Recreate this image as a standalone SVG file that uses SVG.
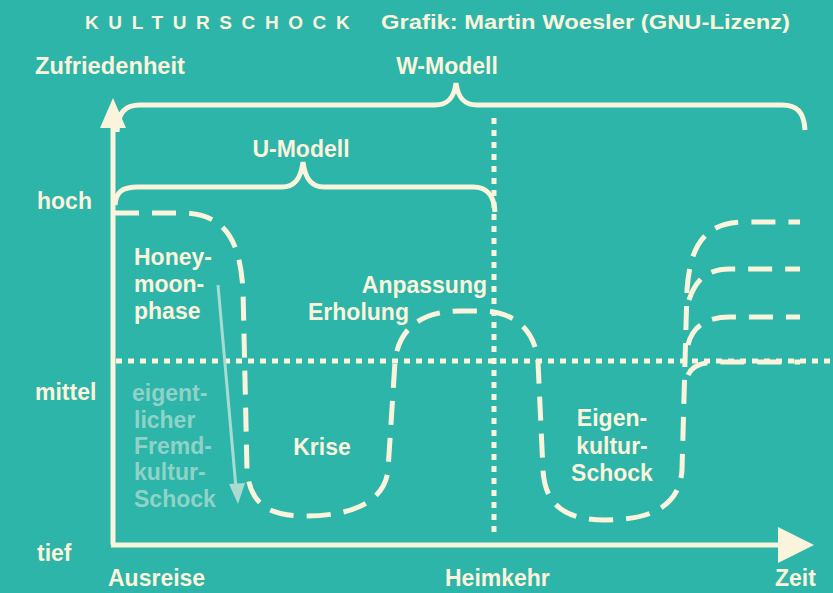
<svg xmlns="http://www.w3.org/2000/svg" width="833" height="593" viewBox="0 0 833 593">
<style>
.t{font-family:"Liberation Sans",Arial,sans-serif;font-weight:bold;fill:#fbf4dc;font-size:23px}
.g{font-family:"Liberation Sans",Arial,sans-serif;font-weight:bold;fill:#8fd3c8;font-size:23px}
.ax{stroke:#fbf4dc;stroke-width:5;fill:none}
.dot{stroke:#fbf4dc;stroke-width:5;fill:none;stroke-dasharray:6 6}
.dash{stroke:#fbf4dc;stroke-width:5;fill:none;stroke-dasharray:24 13;stroke-linecap:butt}
.br{stroke:#fbf4dc;stroke-width:5;fill:none}
</style>
<rect width="833" height="593" fill="#2db5a9"/>
<g id="title">
<text class="t" x="85" y="29" style="font-size:19px;letter-spacing:9.6px">KULTURSCHOCK</text>
<text class="t" x="381" y="29" style="font-size:21px" textLength="409" lengthAdjust="spacingAndGlyphs">Grafik: Martin Woesler (GNU-Lizenz)</text>
</g>
<g id="axes">
<line class="ax" x1="113" y1="120" x2="113" y2="545"/>
<polygon points="113,98 100,128 126,128" fill="#fbf4dc"/>
<line class="ax" x1="111" y1="545" x2="790" y2="545"/>
<polygon points="814,545 778,527 778,563" fill="#fbf4dc"/>
<text class="t" x="35" y="74" textLength="150" lengthAdjust="spacingAndGlyphs">Zufriedenheit</text>
<text class="t" x="37" y="209">hoch</text>
<text class="t" x="35" y="400">mittel</text>
<text class="t" x="37" y="561">tief</text>
<text class="t" x="108" y="586">Ausreise</text>
<text class="t" x="445" y="586">Heimkehr</text>
<text class="t" x="775" y="586">Zeit</text>
</g>
<g id="grid">
<line class="dot" x1="494" y1="118" x2="494" y2="532"/>
<line class="dot" x1="116" y1="361" x2="833" y2="361"/>
</g>
<g id="w-modell">
<path class="br" d="M117,132 C118,112 125,105 140,105 L435,105 C448,105 454,98 456,83 C458,98 464,105 477,105 L782,105 C797,105 804,112 805,130"/>
<text class="t" x="447" y="74" text-anchor="middle">W-Modell</text>
</g>
<g id="u-modell">
<path class="br" d="M115,205 C116,192 122,187 138,187 L282,187 C295,187 301,178 303,162 C305,178 311,187 324,187 L473,187 C487,187 494,195 495,212"/>
<text class="t" x="301" y="157" text-anchor="middle">U-Modell</text>
</g>
<g id="connectors">
<path class="dash" d="M115,213 L185,213 C225,215 240,240 243,290 L247,470 C250,505 270,516 305,516 C355,516 385,500 388,470 L395,362 C398,330 420,311 460,311 L480,311 C515,311 535,330 538,362 L543,470 C545,505 565,520 605,520 C660,520 680,500 682,470 L687,290 C690,245 705,222 745,222 L800,222"/>
<path class="dash" d="M689,300 C695,282 705,269 730,269 L800,269"/>
<path class="dash" d="M688,345 C692,328 705,317 730,317 L800,317"/>
<path class="dash" d="M688,375 C692,366 700,362 720,362 L800,362"/>
<line x1="218" y1="285" x2="236" y2="488" stroke="#a9dbd3" stroke-width="3"/>
<polygon points="238,504 229,484 245,483" fill="#a9dbd3"/>
</g>
<g id="honeymoon">
<text class="t" x="134" y="265">Honey-</text>
<text class="t" x="134" y="292">moon-</text>
<text class="t" x="134" y="319">phase</text>
</g>
<g id="fremdkultur">
<text class="g" x="132" y="401">eigent-</text>
<text class="g" x="134" y="428">licher</text>
<text class="g" x="134" y="454">Fremd-</text>
<text class="g" x="134" y="480">kultur-</text>
<text class="g" x="134" y="507">Schock</text>
</g>
<g id="krise"><text class="t" x="322" y="455" text-anchor="middle">Krise</text></g>
<g id="anpassung">
<text class="t" x="487" y="293" text-anchor="end">Anpassung</text>
<text class="t" x="308" y="320">Erholung</text>
</g>
<g id="eigenkultur">
<text class="t" x="612" y="426" text-anchor="middle">Eigen-</text>
<text class="t" x="612" y="454" text-anchor="middle">kultur-</text>
<text class="t" x="612" y="481" text-anchor="middle">Schock</text>
</g>
</svg>
